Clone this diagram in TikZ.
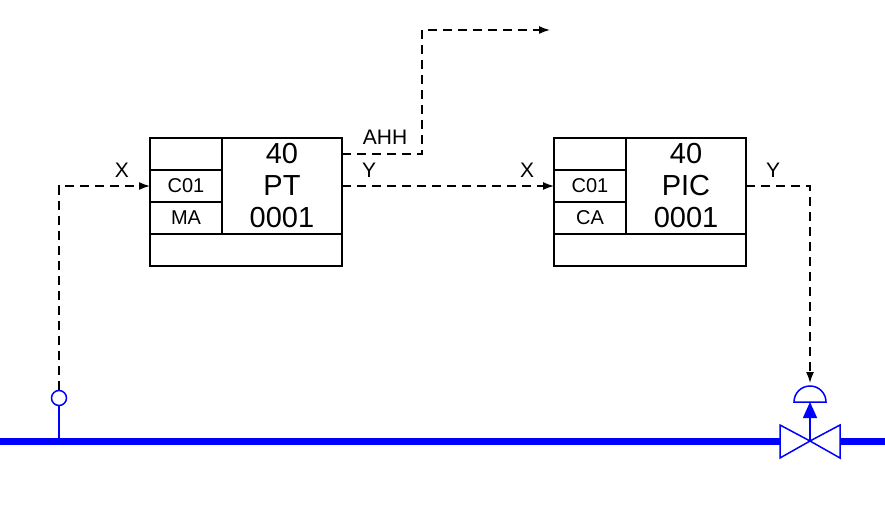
\documentclass[tikz,border=0pt]{standalone}
\usepackage{fontspec}
\setmainfont{Liberation Sans}
\usetikzlibrary{positioning,arrows.meta}
\tikzset{
  box/.style={draw, line width=1.5pt, outer sep=0pt, minimum width=#1, minimum height=32pt, inner sep=0pt, font=\fontsize{20}{20}\selectfont},
  signal/.style={line width=1.5pt, dash pattern=on 9pt off 6pt},
  tag/.style={font=\fontsize{21}{21}\selectfont},
  big/.style={font=\fontsize{29}{32}\selectfont, align=center},
  pipe/.style={blue, line width=7pt},
}
\begin{document}
\begin{tikzpicture}[x=1pt,y=-1pt]
  \useasboundingbox (0,0) rectangle (885,510);
  % pressure transmitter block
  \node[box=72pt, anchor=north west] (PTa) at (150,138) {};
  \node[box=72pt, below=0pt of PTa] (PTb) {C01};
  \node[box=72pt, below=0pt of PTb] (PTc) {MA};
  \node[draw, line width=1.5pt, outer sep=0pt, minimum width=120pt, minimum height=96pt, anchor=north west, big, inner sep=0pt] (PT) at (222,138) {40\\PT\\0001};
  \node[draw, line width=1.5pt, outer sep=0pt, minimum width=192pt, minimum height=32pt, anchor=north west] (PTd) at (150,234) {};
  % controller block
  \node[box=72pt, anchor=north west] (PICa) at (554,138) {};
  \node[box=72pt, below=0pt of PICa] (PICb) {C01};
  \node[box=72pt, below=0pt of PICb] (PICc) {CA};
  \node[draw, line width=1.5pt, outer sep=0pt, minimum width=120pt, minimum height=96pt, anchor=north west, big, inner sep=0pt] (PIC) at (626,138) {40\\PIC\\0001};
  \node[draw, line width=1.5pt, outer sep=0pt, minimum width=192pt, minimum height=32pt, anchor=north west] (PICd) at (554,234) {};
  % pipe and tap
  \coordinate (P0) at (0,441);
  \coordinate (P1) at (780,441);
  \coordinate (P2) at (840,441);
  \coordinate (P3) at (885,441);
  \draw[pipe] (P0) -- (P1);
  \draw[pipe] (P2) -- (P3);
  \node[draw, blue, line width=1.5pt, circle, minimum size=15pt, inner sep=0pt, fill=white] (tap) at (59,398) {};
  \draw[blue, line width=1.5pt] (tap.south) -- (59,441);
  % control valve
  \coordinate (V) at (810,441);
  \draw[blue, line width=1.5pt, fill=white] (V) -- (780,425) -- (780,458) -- cycle;
  \draw[blue, line width=1.5pt, fill=white] (V) -- (840,425) -- (840,458) -- cycle;
  \coordinate (act) at (810,402);
  \draw[blue, line width=1.5pt, fill=white] (794,402) arc[start angle=180, end angle=360, radius=16] -- cycle;
  \draw[blue, line width=1.5pt, -{Triangle[length=16pt,width=14pt]}] (V) -- (act);
  % signals
  \draw[signal, -{Latex[length=11pt,width=8pt]}] (tap.north) |- (PTb.west);
  \draw[signal, -{Latex[length=11pt,width=8pt]}] (PT.east |- PTb.east) -- (PICb.west);
  \coordinate (alarm) at (550,30);
  \draw[signal, -{Latex[length=11pt,width=8pt]}] (342,154) -- (422,154) |- (alarm);
  \coordinate (valvetop) at (810,383);
  \draw[signal, -{Latex[length=11pt,width=8pt]}] (PIC.east |- PICb.east) -| (valvetop);
  % labels
  \node[tag] (x1) at (122,170) {X};
  \node[tag] (y1) at (369,170) {Y};
  \node[tag] (ahh) at (385,137) {AHH};
  \node[tag] (x2) at (527,170) {X};
  \node[tag] (y2) at (773,170) {Y};
\end{tikzpicture}
\end{document}
